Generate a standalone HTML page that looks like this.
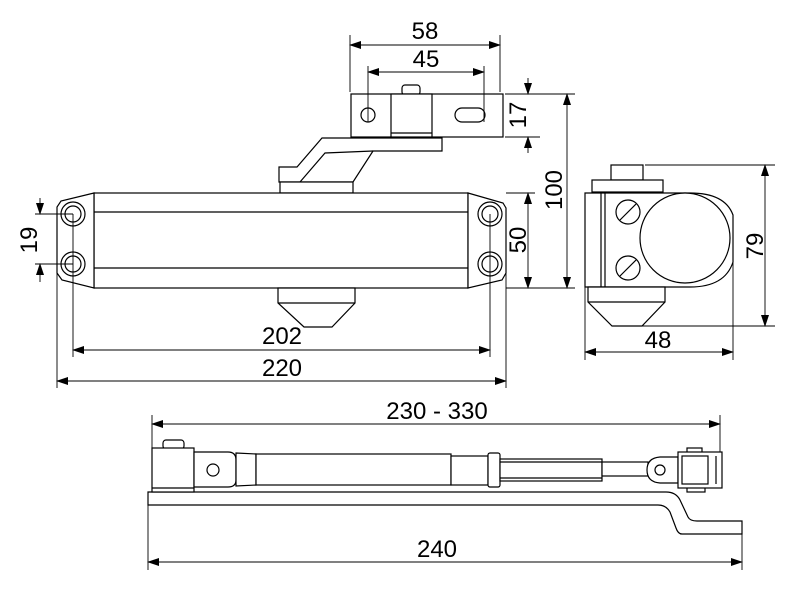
<!DOCTYPE html>
<html><head><meta charset="utf-8"><style>
html,body{margin:0;padding:0;background:#fff;}
svg{display:block;}
text{font-family:"Liberation Sans",sans-serif;font-size:24px;fill:#000;}
</style></head><body>
<svg width="800" height="595" viewBox="0 0 800 595" xmlns="http://www.w3.org/2000/svg">
<defs>
<marker id="a" markerWidth="12" markerHeight="8" refX="11" refY="4" orient="auto-start-reverse" markerUnits="userSpaceOnUse">
<path d="M0,0 L12,4 L0,8 Z" fill="#000"/></marker>
</defs>
<g fill="#fff" stroke="#000" stroke-width="1.2">
<!-- top bracket -->
<rect x="402" y="85" width="18" height="10" rx="3"/>
<rect x="351" y="94" width="152" height="43"/>
<rect x="391" y="94" width="41" height="43"/>
<line x1="391" y1="133" x2="432" y2="133"/>
<circle cx="368" cy="115" r="7"/>
<rect x="455" y="108" width="30" height="14" rx="7"/>
<!-- arm -->
<path d="M279,182 L279,167 L297,167 L322,138 L442,138 L442,151 L373,151 L353,182 Z"/>
<path d="M300,182 L325,153 L373,151" fill="none"/>
<rect x="280" y="182" width="73" height="11"/>
<!-- body -->
<rect x="94" y="193" width="374" height="95"/>
<line x1="94" y1="212" x2="468" y2="212"/>
<line x1="94" y1="268" x2="468" y2="268"/>
<path d="M94,193 L61,201 L57,207 L57,273 L62,280 L94,288 Z"/>
<path d="M468,193 L503,203 L506,208 L506,273 L502,280 L468,288 Z"/>
<circle cx="73" cy="214" r="12"/><circle cx="73" cy="214" r="8"/>
<circle cx="73" cy="264" r="12"/><circle cx="73" cy="264" r="8"/>
<circle cx="490" cy="214" r="12"/><circle cx="490" cy="214" r="8"/>
<circle cx="490" cy="264" r="12"/><circle cx="490" cy="264" r="8"/>
<path d="M278,288 L278,303 L304,327 L332,327 L355,303 L355,288 Z"/>
<line x1="278" y1="303" x2="355" y2="303"/>
<!-- side view -->
<rect x="611" y="165" width="32" height="15"/>
<rect x="592" y="180" width="71" height="12"/>
<path d="M585,193 L690,193 Q725,193 733,215 L733,262 Q725,287 690,287 L585,287 Z"/>
<line x1="601" y1="193" x2="601" y2="287"/><line x1="605" y1="193" x2="605" y2="287"/>
<circle cx="685" cy="238" r="45"/>
<circle cx="628" cy="212" r="12"/><line x1="620" y1="220" x2="636" y2="204"/>
<circle cx="628" cy="268" r="12"/><line x1="620" y1="276" x2="636" y2="260"/>
<path d="M588,287 L588,302 L612,326 L642,326 L665,302 L665,287 Z"/>
<line x1="588" y1="302" x2="665" y2="302"/>
<!-- bottom arm -->
<path d="M148,492 L666,492 Q676,492 680,500 L688,517 Q690,521 697,521 L742,521 L742,534 L682,534 Q678,534 676,528 L670,512 Q666,505 658,505 L148,505 Z"/>
<rect x="163" y="440" width="21" height="9" rx="3"/>
<rect x="152" y="448" width="42" height="44"/>
<line x1="152" y1="488" x2="194" y2="488"/>
<path d="M194,452 L228,452 Q236,452 236,460 L236,480 Q236,487 228,487 L194,487 Z"/>
<circle cx="213" cy="470" r="6"/>
<path d="M236,453 L256,454 L256,485 L236,486 Z"/>
<rect x="256" y="454" width="195" height="31"/>
<rect x="451" y="456" width="37" height="29"/>
<rect x="488" y="453" width="12" height="34" rx="2"/>
<rect x="500" y="459" width="102" height="22"/>
<line x1="500" y1="462" x2="602" y2="462"/><line x1="500" y1="478" x2="602" y2="478"/>
<rect x="602" y="462" width="46" height="14"/>
<path d="M678,457 L660,457 Q647,458 647,470 Q647,482 660,483 L678,483 Z"/>
<circle cx="660" cy="470" r="5"/>
<rect x="687" y="448" width="15" height="5"/>
<rect x="687" y="487" width="18" height="5"/>
<rect x="678" y="452" width="44" height="36"/>
<rect x="682" y="456" width="26" height="28"/>
<line x1="716" y1="456" x2="716" y2="484"/>
</g>
<!-- dimension & extension lines -->
<g stroke="#000" stroke-width="0.9" fill="none">
<line x1="350" y1="35" x2="350" y2="92"/><line x1="500" y1="35" x2="500" y2="92"/>
<line x1="350" y1="45" x2="500" y2="45" marker-start="url(#a)" marker-end="url(#a)"/>
<line x1="368" y1="66" x2="368" y2="122"/><line x1="484" y1="66" x2="484" y2="122"/>
<line x1="368" y1="72" x2="484" y2="72" marker-start="url(#a)" marker-end="url(#a)"/>
<line x1="505" y1="94" x2="575" y2="94"/><line x1="505" y1="137" x2="540" y2="137"/>
<line x1="528" y1="78" x2="528" y2="94" marker-end="url(#a)"/>
<line x1="528" y1="153" x2="528" y2="137" marker-end="url(#a)"/>
<line x1="567" y1="94" x2="567" y2="288" marker-start="url(#a)" marker-end="url(#a)"/>
<line x1="506" y1="193" x2="535" y2="193"/><line x1="506" y1="288" x2="575" y2="288"/>
<line x1="528" y1="193" x2="528" y2="288" marker-start="url(#a)" marker-end="url(#a)"/>
<line x1="35" y1="214" x2="73" y2="214"/><line x1="35" y1="264" x2="73" y2="264"/>
<line x1="40" y1="198" x2="40" y2="214" marker-end="url(#a)"/>
<line x1="40" y1="282" x2="40" y2="264" marker-end="url(#a)"/>
<line x1="73" y1="214" x2="73" y2="357"/><line x1="490" y1="214" x2="490" y2="357"/>
<line x1="73" y1="350" x2="490" y2="350" marker-start="url(#a)" marker-end="url(#a)"/>
<line x1="57" y1="273" x2="57" y2="388"/><line x1="506" y1="273" x2="506" y2="388"/>
<line x1="57" y1="381" x2="506" y2="381" marker-start="url(#a)" marker-end="url(#a)"/>
<line x1="645" y1="165" x2="775" y2="165"/><line x1="642" y1="326" x2="775" y2="326"/>
<line x1="765" y1="165" x2="765" y2="326" marker-start="url(#a)" marker-end="url(#a)"/>
<line x1="585" y1="287" x2="585" y2="360"/><line x1="733" y1="262" x2="733" y2="360"/>
<line x1="585" y1="352" x2="733" y2="352" marker-start="url(#a)" marker-end="url(#a)"/>
<line x1="152" y1="415" x2="152" y2="448"/><line x1="720" y1="415" x2="720" y2="452"/>
<line x1="152" y1="424" x2="720" y2="424" marker-start="url(#a)" marker-end="url(#a)"/>
<line x1="148" y1="505" x2="148" y2="570"/><line x1="742" y1="534" x2="742" y2="570"/>
<line x1="148" y1="562" x2="742" y2="562" marker-start="url(#a)" marker-end="url(#a)"/>
</g>
<text x="425" y="39" text-anchor="middle">58</text>
<text x="426" y="67" text-anchor="middle">45</text>
<text x="282" y="344" text-anchor="middle">202</text>
<text x="282" y="376" text-anchor="middle">220</text>
<text x="658" y="348" text-anchor="middle">48</text>
<text x="437" y="419" text-anchor="middle">230 - 330</text>
<text x="437" y="557" text-anchor="middle">240</text>
<text transform="translate(526,115) rotate(-90)" text-anchor="middle">17</text>
<text transform="translate(562,190) rotate(-90)" text-anchor="middle">100</text>
<text transform="translate(526,240) rotate(-90)" text-anchor="middle">50</text>
<text transform="translate(37,240) rotate(-90)" text-anchor="middle">19</text>
<text transform="translate(763,246) rotate(-90)" text-anchor="middle">79</text>
</svg>
</body></html>
